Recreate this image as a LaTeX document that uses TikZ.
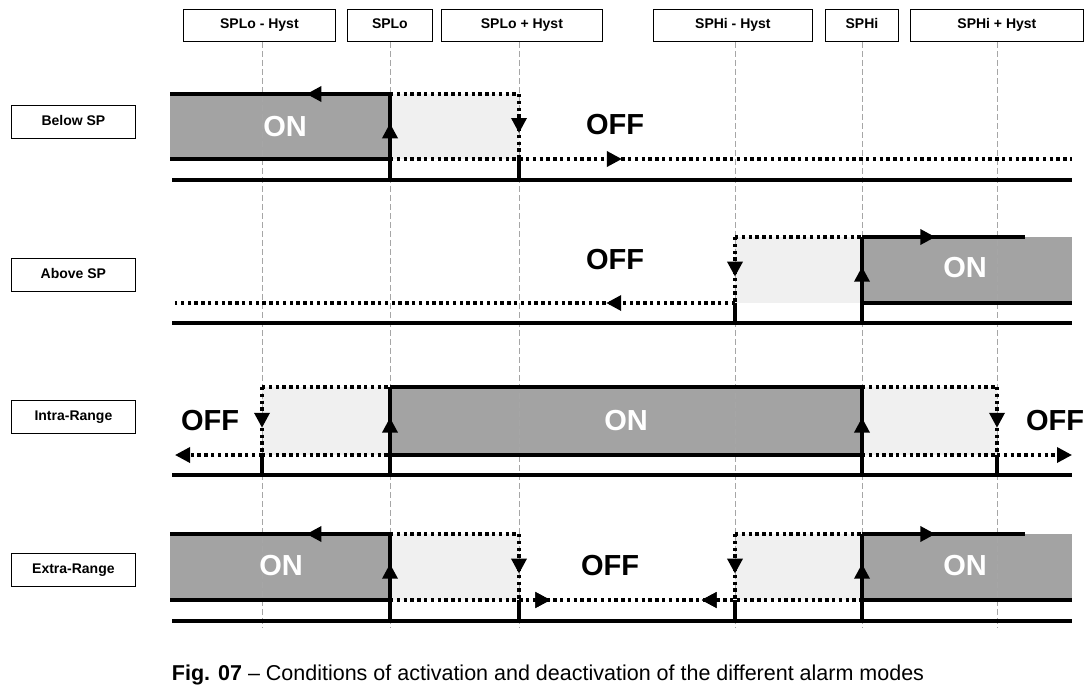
\documentclass[tikz,border=0pt]{standalone}
\usepackage{fontspec}
\setmainfont{Liberation Sans}
\usetikzlibrary{arrows.meta,decorations.markings}
\begin{document}
\begin{tikzpicture}[x=1pt,y=-1pt,
  hdr/.style={draw,line width=0.8pt,font=\bfseries\fontsize{14}{16}\selectfont,inner sep=0pt,text height=10pt,text depth=3pt,anchor=north west},
  guide/.style={gray!70,dash pattern=on 6pt off 3pt,line width=0.7pt},
  sol/.style={line width=3.4pt},
  dot/.style={line width=3.4pt,dash pattern=on 3.4pt off 3.4pt},
  axis/.style={line width=3.4pt},
  dark/.style={fill=gray!72!white},
  light/.style={fill=gray!12},
  big/.style={font=\bfseries\fontsize{29}{32}\selectfont},
  onl/.style={big,text=white},
  tip/.style={-{Triangle[length=15pt,width=15pt]}},
  mid/.style={postaction={decorate},decoration={markings,mark=at position #1 with {\arrow{Triangle[length=15pt,width=15pt]}}}},
  midr/.style={postaction={decorate},decoration={markings,mark=at position #1 with {\arrowreversed{Triangle[length=15pt,width=15pt]}}}}
]
\useasboundingbox (0,0) rectangle (1089,691);
% headers
\foreach \n/\a/\b/\t in {h1/183/335/SPLo - Hyst,h2/347/432/SPLo,h3/441/602/SPLo + Hyst,h4/653/812/SPHi - Hyst,h5/825/898/SPHi,h6/910/1083/SPHi + Hyst}
  \node[hdr,minimum width=\b pt-\a pt,minimum height=32pt] (\n) at (\a,9) {\t};
% left labels
\foreach \n/\y/\t in {l1/105/Below SP,l2/258/Above SP,l3/400/Intra-Range,l4/553/Extra-Range}
  \node[hdr,minimum width=124pt,minimum height=33pt] (\n) at (11,\y) {\t};
% fills
\fill[dark] (170,94) rectangle (390,159);
\fill[light] (390,94) rectangle (519,159);
\fill[light] (735,237) rectangle (862,303);
\fill[dark] (862,237) rectangle (1072,303);
\fill[light] (262,387) rectangle (390,455);
\fill[dark] (390,387) rectangle (862,455);
\fill[light] (862,387) rectangle (997,455);
\fill[dark] (170,534) rectangle (390,600);
\fill[light] (390,534) rectangle (519,600);
\fill[light] (735,534) rectangle (862,600);
\fill[dark] (862,534) rectangle (1072,600);
% guides
\foreach \x/\h in {262/h1,390/h2,519/h3,735/h4,862/h5,997/h6}
  \draw[guide] (\h.south -| \x,0) -- (\x,628);
% axes
\foreach \y in {180,323,475,621} \draw[axis] (172,\y) -- (1072,\y);
% Row 1
\draw[sol,mid=0.38] (390,94) -- (170,94);
\draw[sol] (170,159) -- (390,159);
\draw[dot] (390,94) -- (519,94);
\draw[dot,mid=0.6] (519,94) -- (519,159);
\draw[dot,mid=0.34] (390,159) -- (1072,159);
\draw[sol] (390,180) -- (390,159);
\draw[sol,mid=0.55] (390,159) -- (390,94);
\draw[sol] (519,180) -- (519,159);
% Row 2
\draw[dot] (735,237) -- (862,237);
\draw[sol,mid=0.45] (862,237) -- (1025,237);
\draw[sol] (862,303) -- (1072,303);
\draw[dot,mid=0.23] (735,303) -- (175,303);
\draw[dot,mid=0.6] (735,237) -- (735,303);
\draw[sol,mid=0.55] (862,303) -- (862,237);
\draw[sol] (735,323) -- (735,303);
\draw[sol] (862,323) -- (862,303);
% Row 3
\draw[dot] (262,387) -- (390,387);
\draw[sol] (390,387) -- (862,387);
\draw[dot] (862,387) -- (997,387);
\draw[sol] (390,455) -- (862,455);
\draw[dot,tip] (262,455) -- (175,455);
\draw[dot] (262,455) -- (390,455);
\draw[dot] (862,455) -- (997,455);
\draw[dot,tip] (997,455) -- (1072,455);
\draw[dot,mid=0.6] (262,387) -- (262,455);
\draw[sol,mid=0.55] (390,455) -- (390,387);
\draw[sol,mid=0.55] (862,455) -- (862,387);
\draw[dot,mid=0.6] (997,387) -- (997,455);
\foreach \x in {262,390,862,997} \draw[sol] (\x,475) -- (\x,455);
% Row 4
\draw[sol,mid=0.38] (390,534) -- (170,534);
\draw[sol] (170,600) -- (390,600);
\draw[dot] (390,534) -- (519,534);
\draw[dot,mid=0.6] (519,534) -- (519,600);
\draw[dot,mid=0.34,midr=0.66] (390,600) -- (862,600);
\draw[dot] (735,534) -- (862,534);
\draw[dot,mid=0.6] (735,534) -- (735,600);
\draw[sol,mid=0.45] (862,534) -- (1025,534);
\draw[sol] (862,600) -- (1072,600);
\draw[sol,mid=0.55] (390,600) -- (390,534);
\draw[sol,mid=0.55] (862,600) -- (862,534);
\foreach \x in {390,519,735,862} \draw[sol] (\x,621) -- (\x,600);
% texts
\node[onl] (on1) at (285,127) {ON};
\node[big] (off1) at (615,125) {OFF};
\node[big] (off2) at (615,260) {OFF};
\node[onl] (on2) at (965,268) {ON};
\node[big] (off3) at (210,421) {OFF};
\node[onl] (on3) at (626,421) {ON};
\node[big] (off4) at (1055,421) {OFF};
\node[onl] (on4) at (281,566) {ON};
\node[big] (off5) at (610,566) {OFF};
\node[onl] (on5) at (965,566) {ON};
\node[font=\fontsize{21.5}{24}\selectfont] (cap) at (548,675) {\textbf{Fig. 07} -- Conditions of activation and deactivation of the different alarm modes};
\end{tikzpicture}
\end{document}
